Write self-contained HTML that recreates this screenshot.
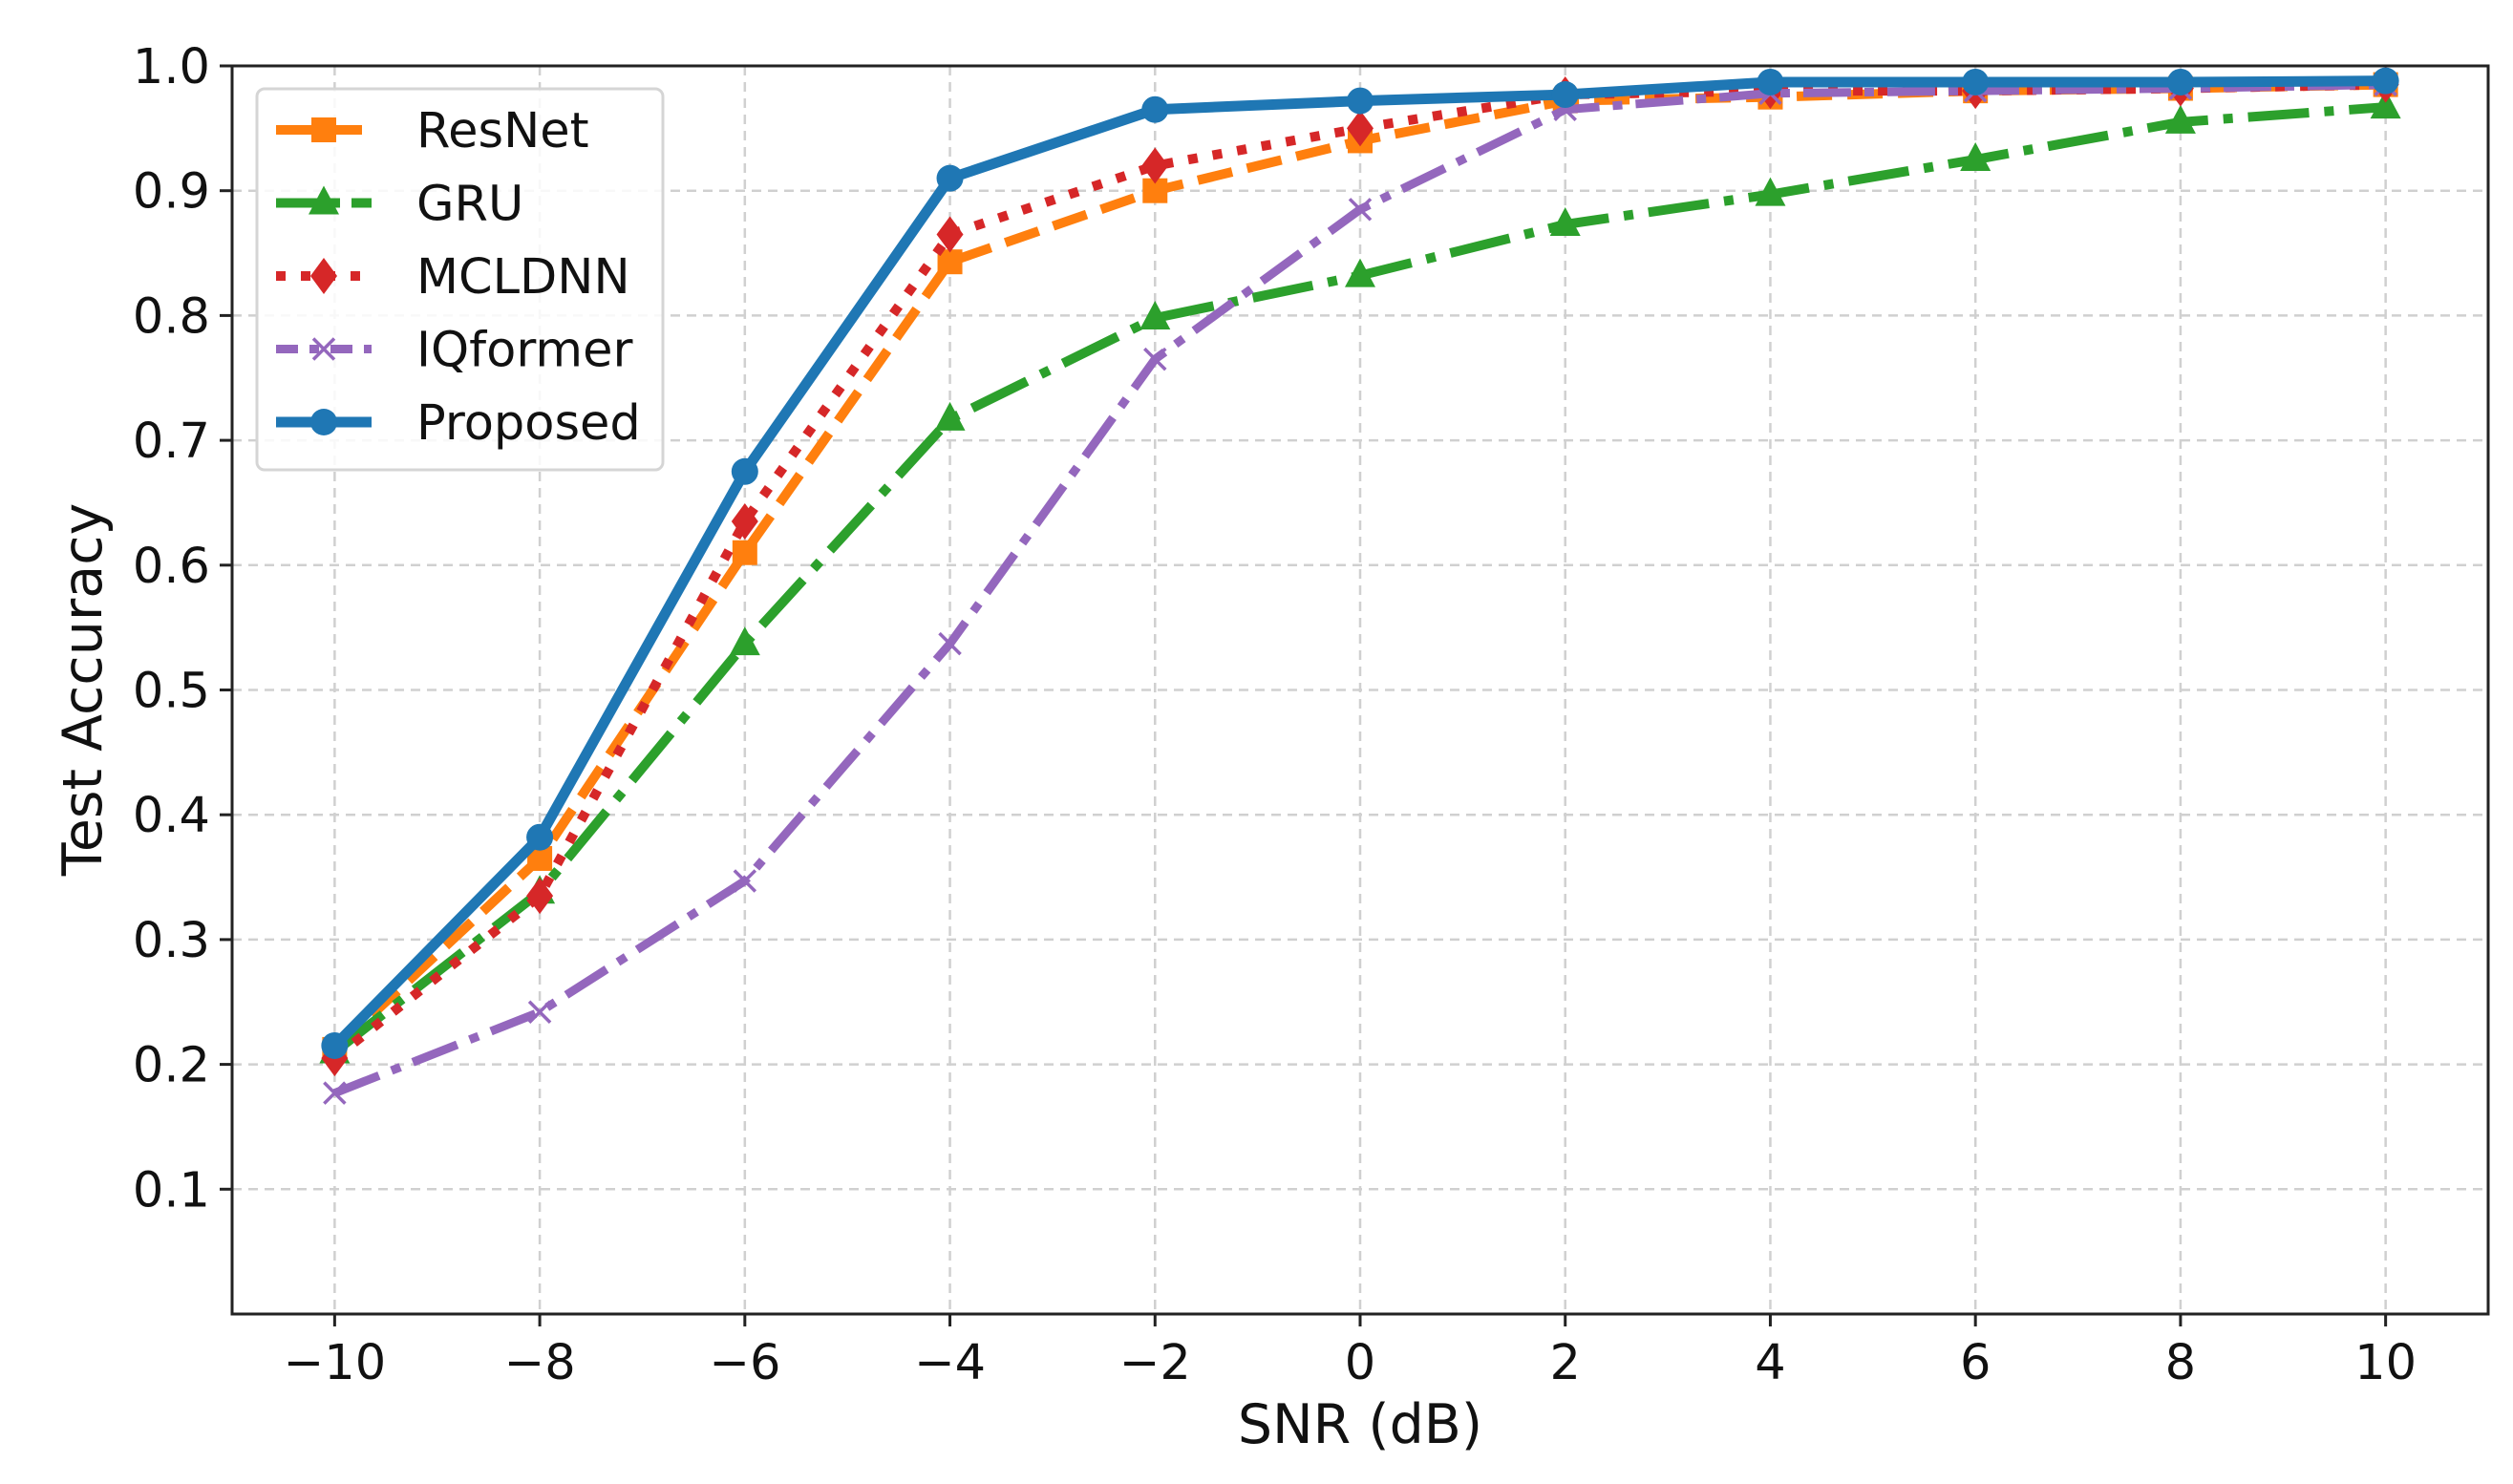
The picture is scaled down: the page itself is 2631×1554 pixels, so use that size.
<!DOCTYPE html>
<html><head><meta charset="utf-8"><style>
html,body{margin:0;padding:0;background:#fff;}
svg{display:block;font-family:"DejaVu Sans","Liberation Sans",sans-serif;}
</style></head><body>
<svg id="chart" width="2631" height="1554" viewBox="0 0 2631 1554" xmlns="http://www.w3.org/2000/svg">
<rect width="2631" height="1554" fill="#fff"/>
<g id="grid"></g>
<g id="series"></g>
<rect x="243" y="69" width="2362" height="1307" fill="none" stroke="#222" stroke-width="3"/>
<g id="ticks"></g>
<text x="1424" y="1511" font-size="57" text-anchor="middle" fill="#111">SNR (dB)</text>
<text x="0" y="0" font-size="57" text-anchor="middle" fill="#111" transform="translate(106,722) rotate(-90)">Test Accuracy</text>
<g id="legend"></g>
</svg>
<script>
const snr = [-10,-8,-6,-4,-2,0,2,4,6,8,10];
const resnet = [0.212,0.365,0.610,0.843,0.900,0.940,0.972,0.975,0.980,0.982,0.985];
const gru = [0.210,0.338,0.537,0.717,0.798,0.832,0.873,0.897,0.925,0.955,0.967];
const mcldnn = [0.205,0.335,0.635,0.865,0.920,0.950,0.977,0.980,0.980,0.982,0.985];
const iqformer = [0.177,0.242,0.347,0.537,0.765,0.885,0.965,0.978,0.980,0.982,0.985];
const proposed = [0.215,0.382,0.675,0.910,0.965,0.972,0.977,0.987,0.987,0.987,0.988];
const xTicks = [-10,-8,-6,-4,-2,0,2,4,6,8,10];
const yTicks = [0.1,0.2,0.3,0.4,0.5,0.6,0.7,0.8,0.9,1.0];

const NS='http://www.w3.org/2000/svg';
const X0=243,X1=2605,Y0=1376,Y1=69;
function xs(v){return X0+(v-(-11))/22*(X1-X0);}
function ys(v){return Y0-(v-0)/(1.0-0)*(Y0-Y1);}
function mk(tag,attrs,parent){const e=document.createElementNS(NS,tag);for(const k in attrs)e.setAttribute(k,attrs[k]);parent.appendChild(e);return e;}
const grid=document.getElementById('grid'),ticks=document.getElementById('ticks'),ser=document.getElementById('series'),leg=document.getElementById('legend');

xTicks.forEach(t=>{
  const g=mk('line',{x1:xs(t),x2:xs(t),y1:Y1,y2:Y0,stroke:'#d0d0d0','stroke-width':2.5,'stroke-dasharray':'10 7'},grid);
  
  
  const tk=mk('line',{x1:xs(t),x2:xs(t),y1:Y0,y2:Y0+13,stroke:'#222','stroke-width':3},ticks);
  
  
  const tx=mk('text',{x:xs(t),y:1444,'font-size':51,'text-anchor':'middle',fill:'#111'},ticks);
  tx.textContent=(t<0?'\u2212'+(-t):String(t));
  
  
});
yTicks.forEach(t=>{
  const g=mk('line',{x1:X0,x2:X1,y1:ys(t),y2:ys(t),stroke:'#d0d0d0','stroke-width':2.5,'stroke-dasharray':'10 7'},grid);
  
  
  const tk=mk('line',{x1:X0-13,x2:X0,y1:ys(t),y2:ys(t),stroke:'#222','stroke-width':3},ticks);
  
  
  const tx=mk('text',{x:220,y:ys(t)+18,'font-size':51,'text-anchor':'end',fill:'#111'},ticks);
  tx.textContent=t.toFixed(1);
  
  
});

function marker(type,cx,cy,color,parent){
  let e;
  if(type==='square') e=mk('rect',{x:cx-13,y:cy-13,width:26,height:26,fill:color},parent);
  else if(type==='tri') e=mk('polygon',{points:`${cx},${cy-18} ${cx+16},${cy+12} ${cx-16},${cy+12}`,fill:color},parent);
  else if(type==='diamond') e=mk('polygon',{points:`${cx},${cy-19} ${cx+14},${cy} ${cx},${cy+19} ${cx-14},${cy}`,fill:color},parent);
  else if(type==='x') e=mk('path',{d:`M${cx-11},${cy-11}L${cx+11},${cy+11}M${cx+11},${cy-11}L${cx-11},${cy+11}`,stroke:color,'stroke-width':3.5,fill:'none'},parent);
  else e=mk('circle',{cx:cx,cy:cy,r:14,fill:color},parent);
  return e;
}
const defs=[
  {name:'ResNet',data:resnet,color:'#ff7f0e',dash:'37 16',w:10,m:'square'},
  {name:'GRU',data:gru,color:'#2ca02c',dash:'64 16 10 16',w:10,m:'tri'},
  {name:'MCLDNN',data:mcldnn,color:'#d62728',dash:'10 16',w:10,m:'diamond'},
  {name:'IQformer',data:iqformer,color:'#9467bd',dash:'50 14 10 14',w:9,m:'x'},
  {name:'Proposed',data:proposed,color:'#1f77b4',dash:'none',w:11,m:'circle'}
];
defs.forEach((d,i)=>{
  const g=mk('g',{},ser);
  
  
  const pts=d.data.map((v,j)=>xs(snr[j])+','+ys(v)).join(' ');
  const pl=mk('polyline',{points:pts,fill:'none',stroke:d.color,'stroke-width':d.w,'stroke-dasharray':d.dash,'stroke-linejoin':'round'},g);
  
  
  d.data.forEach((v,j)=>{
    const m=marker(d.m,xs(snr[j]),ys(v),d.color,g);
    
    
  });
  const ly=136+i*76.5;
  const lg=mk('g',{},leg);
  
  
  const ll=mk('line',{x1:289,x2:389,y1:ly,y2:ly,stroke:d.color,'stroke-width':d.w,'stroke-dasharray':d.dash==='none'?'none':(d.m==='tri'?'45 12 10 12':(d.m==='x'?'23 12 10 12':d.dash))},lg);
  
  
  const lm=marker(d.m,339,ly,d.color,lg);
  
  
  const lt=mk('text',{x:436,y:ly+18,'font-size':51,fill:'#111'},lg);
  lt.textContent=d.name;
  
  
});
const box=mk('rect',{x:269,y:93,width:425,height:399,rx:8,fill:'rgba(255,255,255,0.85)',stroke:'#d5d5d5','stroke-width':3},leg);


leg.insertBefore(box,leg.firstChild);
</script>
</body></html>
